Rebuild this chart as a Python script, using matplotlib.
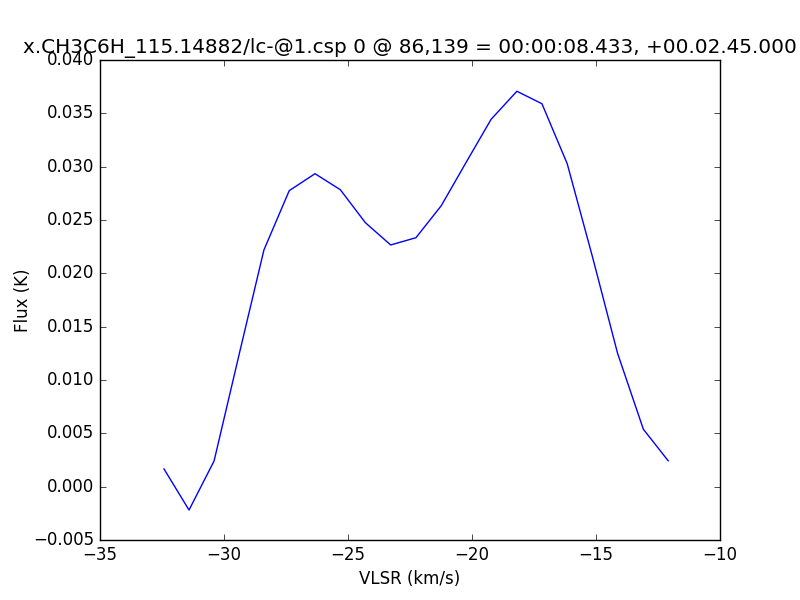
import matplotlib
matplotlib.use("Agg")
import matplotlib.pyplot as plt

# spectrum
vlsr = [-32.42, -31.41, -30.40, -29.40, -28.39, -27.37, -26.33, -25.31, -24.30,
        -23.28, -22.26, -21.24, -20.24, -19.23, -18.19, -17.18, -16.16, -15.14,
        -14.13, -13.09, -12.09]
flux = [0.00166, -0.00219, 0.00241, 0.01230, 0.02219, 0.02775, 0.02934, 0.02784,
        0.02475, 0.02266, 0.02334, 0.02634, 0.03039, 0.03444, 0.03707, 0.03590,
        0.03027, 0.02153, 0.01250, 0.00538, 0.00243]

title = "x.CH3C6H_115.14882/lc-@1.csp 0 @ 86,139 = 00:00:08.433, +00.02.45.000"

plt.style.use("classic")
fig = plt.figure(figsize=(8, 6), dpi=100)
ax = fig.add_subplot(111)
ax.plot(vlsr, flux, color="b", linewidth=1)
ax.set_xlim(-35, -10)
ax.set_ylim(-0.005, 0.040)
ax.set_xlabel("VLSR (km/s)")
ax.set_ylabel("Flux (K)", labelpad=1)
ax.set_title(title)
fig.savefig("out.png", dpi=100, facecolor="white")
